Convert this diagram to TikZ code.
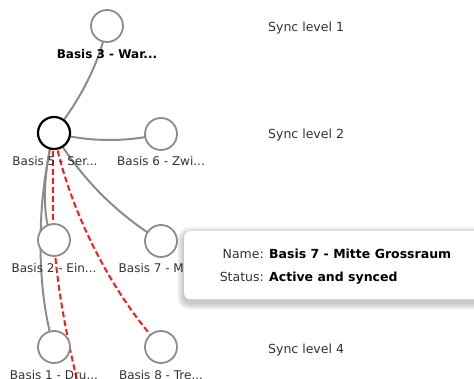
\documentclass[tikz,border=0pt]{standalone}
\usepackage{fontspec}
\setmainfont{DejaVu Sans}
\usetikzlibrary{backgrounds}
\definecolor{edgegray}{HTML}{8C8C8C}
\definecolor{txtgray}{HTML}{333333}
\definecolor{linkred}{HTML}{FF1A1A}
\begin{document}
\begin{tikzpicture}[x=1pt,y=-1pt,
  base/.style={circle, draw=edgegray, line width=1.8pt, fill=white, minimum size=32pt, inner sep=0pt},
  current/.style={base, draw=black, line width=2.2pt},
  lbl/.style={anchor=base, inner sep=0pt, text=txtgray, font=\fontsize{12}{14}\selectfont},
  lblbold/.style={lbl, text=black, font=\fontsize{12}{14}\selectfont\bfseries},
  level/.style={anchor=base west, inner sep=0pt, text=txtgray, font=\fontsize{12.5}{15}\selectfont},
  graylink/.style={draw=edgegray, line width=2pt},
  redlink/.style={draw=linkred, line width=2pt, dash pattern=on 6pt off 3pt},
  tooltip/.style={fill=white, rounded corners=6pt, inner sep=0pt, anchor=north west},
  tipkey/.style={anchor=base east, inner sep=0pt, text=txtgray, font=\fontsize{12.5}{15}\selectfont},
  tipval/.style={anchor=base west, inner sep=0pt, text=black, font=\fontsize{12.5}{15}\selectfont\bfseries}
]
\useasboundingbox (0,0) rectangle (474,379);
\clip (0,0) rectangle (474,379);

% nodes
\node[base] (b3) at (107,26) {};
\node[current] (b5) at (54,133) {};
\node[base] (b6) at (161,134) {};
\node[base] (b2) at (54,240) {};
\node[base] (b7) at (161,241) {};
\node[base] (b1) at (54,347) {};
\node[base] (b8) at (161,347) {};
\coordinate (b0) at (86,420);

% labels
\node[lblbold] (l3) at (107,59) {Basis 3 - War...};
\node[lbl] (l5) at (55,166) {Basis 5 - Ser...};
\node[lbl] (l6) at (161,166) {Basis 6 - Zwi...};
\node[lbl] (l2) at (54,273) {Basis 2 - Ein...};
\node[lbl] (l7) at (161,273) {Basis 7 - Mit...};
\node[lbl] (l1) at (54,380) {Basis 1 - Dru...};
\node[lbl] (l8) at (161,380) {Basis 8 - Tre...};

\node[level] (s1) at (268,32) {Sync level 1};
\node[level] (s2) at (268,139) {Sync level 2};
\node[level] (s4) at (268,353) {Sync level 4};

% links
\begin{scope}[on background layer]
  \clip (0,0) rectangle (474,379);
  \fill[white] (0,0) rectangle (474,379);
  \draw[graylink] (b3.center) .. controls (99.3,62.3) and (81.7,98) .. (b5.center);
  \draw[graylink] (b5.center) .. controls (89.7,142) and (125.3,142.3) .. (b6.center);
  \draw[graylink] (b5.center) .. controls (80.7,178) and (116.3,213.9) .. (b7.center);
  \draw[graylink] (b5.center) .. controls (44,165) and (40,222) .. (b2.center);
  \draw[graylink] (b5.center) .. controls (36,200) and (36,290) .. (b1.center);
  \draw[redlink] ([xshift=-1.5pt]b5.center) -- ([xshift=-1.5pt]b2.center);
  \draw[redlink] (b5.center) .. controls (64,190) and (100,280) .. (b8.center);
  \draw[redlink] (b2.center) .. controls (58,300) and (70,350) .. (b0);
\end{scope}

% tooltip shadow
\foreach \s in {1,...,7} {
  \fill[black, opacity=0.03, rounded corners=6pt+\s pt] (184-\s,234-\s) rectangle (500+\s,303+\s);
}
\node[tooltip, minimum width=316pt, minimum height=68pt] (tip) at (184,231) {};
\node[tipkey] (k1) at (264,259) {Name:};
\node[tipval] (v1) at (269,259) {Basis 7 - Mitte Grossraum};
\node[tipkey] (k2) at (264,282) {Status:};
\node[tipval] (v2) at (269,282) {Active and synced};
\end{tikzpicture}
\end{document}
